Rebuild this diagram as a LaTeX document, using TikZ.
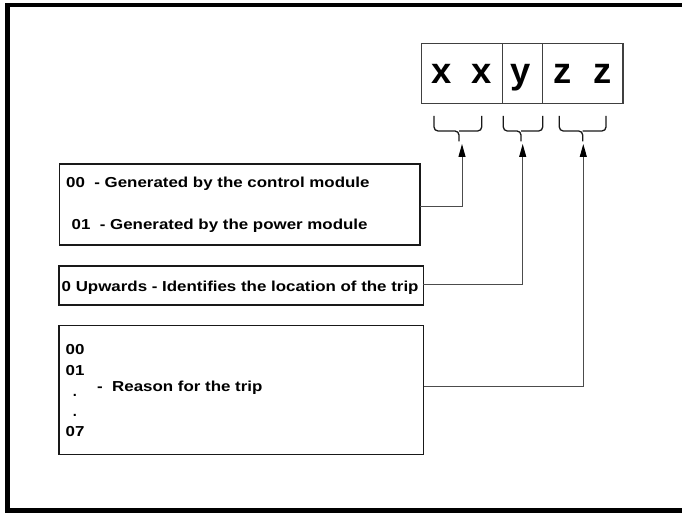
\documentclass[tikz,border=0pt]{standalone}
\usepackage{fontspec}
\usepackage{graphicx}
\setmainfont{Liberation Sans}
\usetikzlibrary{arrows.meta,calc}
\newcommand\stretchtxt[1]{\scalebox{1.17}[1]{#1}}
\begin{document}
\begin{tikzpicture}[x=1bp,y=-1bp,
  box/.style={draw=black!90,line width=1.1bp,inner sep=0,outer sep=0},
  cbox/.style={draw=black!75,line width=1.2bp,inner sep=0,outer sep=0,minimum height=60bp},
  txt/.style={font=\fontsize{14.5}{16}\selectfont\bfseries,inner sep=0,anchor=base west},
  dotm/.style={font=\fontsize{14.5}{16}\selectfont\bfseries,inner sep=0,anchor=base},
  big/.style={font=\fontsize{36.5}{40}\selectfont\bfseries,inner sep=0,anchor=base},
  brc/.style={draw=black!90,line width=1.3bp,rounded corners=4bp},
  conn/.style={draw=black!70,line width=1bp},
  arr/.style={conn,-{Triangle[length=13bp,width=7bp,fill=black,color=black]}}]
\useasboundingbox (0,0) rectangle (682,513);
% frame
\draw[line width=4.8bp] (682,5) -- (7.5,5) -- (7.5,510.7) -- (682,510.7);
% code boxes
\node[cbox,minimum width=80.6bp] (cx) at (462,73.3) {};
\node[cbox,minimum width=40.4bp] (cy) at (522.5,73.3) {};
\node[cbox,minimum width=80.3bp] (cz) at (582.85,73.3) {};
\node[big] (x1) at (441.5,84) {x};
\node[big] (x2) at (481.7,84) {x};
\node[big] (yy) at (520.5,84) {y};
\node[big] (z1) at (562.3,84) {z};
\node[big] (z2) at (602.3,84) {z};
% braces
\draw[brc] (434,116) -- (434,131) -- (459,131) -- (459,141.5);
\draw[brc] (481.7,116) -- (481.7,131) -- (459,131);
\draw[brc] (503.3,116) -- (503.3,131) -- (521,131) -- (521,141.5);
\draw[brc] (542.7,116) -- (542.7,131) -- (521,131);
\draw[brc] (559.3,116) -- (559.3,131) -- (582.7,131) -- (582.7,141.5);
\draw[brc] (606,116) -- (606,131) -- (582.7,131);
\coordinate (t1) at (462,144);
\coordinate (t2) at (522.7,144);
\coordinate (t3) at (583.3,144);
% description boxes
\node[box,minimum width=360.7bp,minimum height=81bp] (b1) at (239.65,204.5) {};
\node[box,minimum width=364.3bp,minimum height=39bp] (b2) at (241.15,285.5) {};
\node[box,minimum width=364.5bp,minimum height=128.6bp] (b3) at (241.25,390) {};
\node[txt] (l1) at (66,188) {\stretchtxt{00~~- Generated by the control module}};
\node[txt] (l2) at (71.5,230) {\stretchtxt{01~~- Generated by the power module}};
\node[txt] (l3) at (61.5,291) {\stretchtxt{0 Upwards - Identifies the location of the trip}};
\node[txt] (n00) at (65.5,354) {\stretchtxt{00}};
\node[txt] (n01) at (65.5,375.5) {\stretchtxt{01}};
\node[dotm] (d1) at (75,396) {.};
\node[dotm] (d2) at (75,416) {.};
\node[txt] (n07) at (65.5,436) {\stretchtxt{07}};
\node[txt] (rs) at (97,391) {\stretchtxt{-~~Reason for the trip}};
% connectors
\draw[arr] ([yshift=-2.2bp]b1.east) -| (t1);
\draw[arr] ([yshift=1.5bp]b2.east) -| (t2);
\draw[arr] ([yshift=4bp]b3.east) -| (t3);
\end{tikzpicture}
\end{document}
